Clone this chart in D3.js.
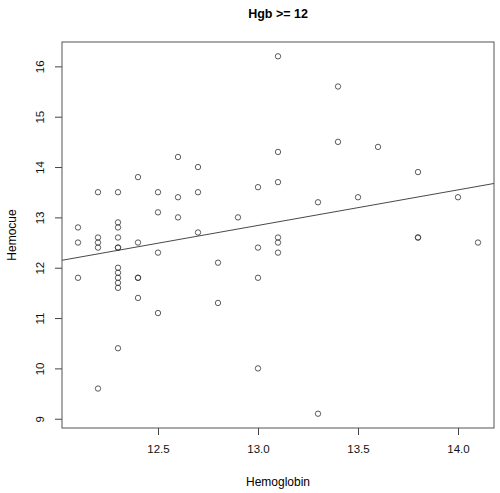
<!DOCTYPE html>
<html>
<head>
<meta charset="utf-8">
<script src="https://cdn.jsdelivr.net/npm/d3@7"></script>
<style>
  body { margin: 0; background: #fff; }
  svg { display: block; font-family: "Liberation Sans", Arial, sans-serif; }
</style>
</head>
<body>
<div id="app"></div>
<script>
// Hemoglobin (x) against Hemocue (y), one entry per patient
const hemoglobin = [
  12.1, 12.1, 12.1,
  12.2, 12.2, 12.2, 12.2, 12.2,
  12.3, 12.3, 12.3, 12.3, 12.3, 12.3, 12.3, 12.3, 12.3, 12.3, 12.3, 12.3,
  12.4, 12.4, 12.4, 12.4, 12.4,
  12.5, 12.5, 12.5, 12.5,
  12.6, 12.6, 12.6,
  12.7, 12.7, 12.7,
  12.8, 12.8,
  12.9,
  13.0, 13.0, 13.0, 13.0,
  13.1, 13.1, 13.1, 13.1, 13.1, 13.1,
  13.3, 13.3,
  13.4, 13.4,
  13.5,
  13.6,
  13.8, 13.8, 13.8,
  14.0,
  14.1
]
const hemocue = [
  12.8, 12.5, 11.8,
  13.5, 12.6, 12.5, 12.4, 9.6,
  13.5, 12.9, 12.8, 12.6, 12.4, 12.4, 12.0, 11.9, 11.8, 11.7, 11.6, 10.4,
  13.8, 12.5, 11.8, 11.8, 11.4,
  13.5, 13.1, 12.3, 11.1,
  14.2, 13.4, 13.0,
  14.0, 13.5, 12.7,
  12.1, 11.3,
  13.0,
  13.6, 12.4, 11.8, 10.0,
  16.2, 14.3, 13.7, 12.6, 12.5, 12.3,
  13.3, 9.1,
  15.6, 14.5,
  13.4,
  14.4,
  13.9, 12.6, 12.6,
  13.4,
  12.5
]
const xTicks = [12.5, 13.0, 13.5, 14.0]
const yTicks = [9, 10, 11, 12, 13, 14, 15, 16]
const title = 'Hgb >= 12'
const xLabel = 'Hemoglobin'
const yLabel = 'Hemocue'

const width = 500, height = 493
const margin = { top: 42, right: 6, bottom: 65, left: 62 }

const points = hemoglobin.map((x, i) => ({ x, y: hemocue[i] }))

// R style 4% padding around the data range
const pad = ([a, b]) => [a - (b - a) * 0.04, b + (b - a) * 0.04]

const x = d3.scaleLinear()
  .domain(pad(d3.extent(hemoglobin)))
  .range([margin.left, width - margin.right])
const y = d3.scaleLinear()
  .domain(pad(d3.extent(hemocue)))
  .range([height - margin.bottom, margin.top])

// least squares fit, like abline(lm(hemocue ~ hemoglobin))
const mx = d3.mean(hemoglobin), my = d3.mean(hemocue)
const slope = d3.sum(points, d => (d.x - mx) * (d.y - my)) /
  d3.sum(points, d => (d.x - mx) ** 2)
const intercept = my - slope * mx

const svg = d3.create('svg')
  .attr('width', width)
  .attr('height', height)

svg.append('text')
  .attr('x', (x.range()[0] + x.range()[1]) / 2)
  .attr('y', 18)
  .attr('text-anchor', 'middle')
  .attr('font-size', 12.5)
  .attr('font-weight', 'bold')
  .text(title)

const xAxis = svg.append('g')
  .attr('transform', `translate(0,${y.range()[0]})`)
  .call(d3.axisBottom(x).tickValues(xTicks).tickFormat(d3.format('.1f')).tickSize(7).tickPadding(10))
xAxis.select('.domain').remove()

const yAxis = svg.append('g')
  .attr('transform', `translate(${x.range()[0]},0)`)
  .call(d3.axisLeft(y).tickValues(yTicks).tickSize(7).tickPadding(8))
yAxis.select('.domain').remove()
yAxis.selectAll('.tick text')
  .attr('x', 0).attr('dy', 0)
  .attr('text-anchor', 'middle')
  .attr('transform', 'translate(-18,0) rotate(-90)')

svg.selectAll('.tick line').attr('stroke', '#444')
svg.selectAll('.tick text')
  .attr('font-size', 11.5)
  .attr('font-family', '"Liberation Sans", Arial, sans-serif')
  .attr('fill', '#111')

svg.append('text')
  .attr('x', (x.range()[0] + x.range()[1]) / 2)
  .attr('y', 486)
  .attr('text-anchor', 'middle')
  .attr('font-size', 12)
  .text(xLabel)

svg.append('text')
  .attr('transform', `translate(16,${(y.range()[0] + y.range()[1]) / 2}) rotate(-90)`)
  .attr('text-anchor', 'middle')
  .attr('font-size', 12)
  .text(yLabel)

svg.append('defs').append('clipPath').attr('id', 'plot')
  .append('rect')
  .attr('x', x.range()[0]).attr('y', y.range()[1])
  .attr('width', x.range()[1] - x.range()[0])
  .attr('height', y.range()[0] - y.range()[1])

svg.append('g')
  .attr('fill', 'none')
  .attr('stroke', '#333')
  .attr('stroke-width', 0.8)
  .selectAll('circle')
  .data(points)
  .join('circle')
  .attr('cx', d => x(d.x))
  .attr('cy', d => y(d.y))
  .attr('r', 2.7)

const [x0, x1] = x.domain()
svg.append('line')
  .attr('clip-path', 'url(#plot)')
  .attr('x1', x(x0)).attr('y1', y(intercept + slope * x0))
  .attr('x2', x(x1)).attr('y2', y(intercept + slope * x1))
  .attr('stroke', '#333')
  .attr('stroke-width', 0.9)

svg.append('rect')
  .attr('x', x.range()[0]).attr('y', y.range()[1])
  .attr('width', x.range()[1] - x.range()[0])
  .attr('height', y.range()[0] - y.range()[1])
  .attr('fill', 'none')
  .attr('stroke', '#555')
  .attr('stroke-width', 1)

d3.select('#app').append(() => svg.node())
</script>
</body>
</html>
